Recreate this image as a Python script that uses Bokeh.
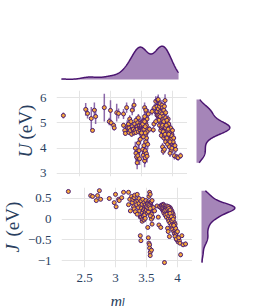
import numpy as np
from bokeh.plotting import figure
from bokeh.layouts import column, row
from bokeh.models import FixedTicker, Range1d, Grid, ColumnDataSource, Label
from bokeh.core.properties import value
from bokeh.embed import file_html
from bokeh.resources import INLINE

# ---------------- data ----------------
m_l = [2.24, 2.60, 2.63, 2.69, 2.71, 2.74, 2.76, 2.90, 2.98, 3.00, 3.01, 3.05, 3.06, 3.10, 3.13, 3.21, 3.21, 3.23, 3.24,
       3.26, 3.27, 3.28, 3.29, 3.30, 3.30, 3.31, 3.32, 3.33, 3.34, 3.35, 3.35, 3.36, 3.37, 3.38, 3.38, 3.39, 3.40, 3.41, 3.41, 3.42, 3.43, 3.43, 3.44, 3.45, 3.45, 3.46, 3.47, 3.47, 3.48,
       3.40, 3.41, 3.42, 3.43, 3.44, 3.45, 3.46, 3.47, 3.48, 3.52, 3.53, 3.54, 3.55, 3.55, 3.56, 3.56, 3.57, 3.58, 3.58, 3.59, 3.60,
       3.48, 3.49, 3.49, 3.50, 3.50, 3.51, 3.51, 3.52, 3.52, 3.53, 3.53, 3.54, 3.54, 3.55, 3.55, 3.56, 3.56, 3.57, 3.57, 3.58, 3.58, 3.59, 3.59, 3.50, 3.51, 3.52, 3.53, 3.54, 3.55, 3.53, 3.56, 3.57, 3.52, 3.61, 3.63,
       3.67, 3.69, 3.71, 3.73, 3.74, 3.75, 3.76, 3.76, 3.77, 3.78, 3.75, 3.75, 3.76, 3.77, 3.77, 3.78, 3.78, 3.79, 3.80, 3.80, 3.81, 3.82, 3.83, 3.83, 3.84, 3.85, 3.86, 3.87, 3.88, 3.89,
       3.78, 3.79, 3.80, 3.81, 3.82, 3.83, 3.84, 3.85, 3.85, 3.86, 3.86, 3.87, 3.88, 3.89, 3.90, 3.91, 3.92, 3.92, 3.93, 3.94, 3.95, 3.95, 3.96, 3.97, 3.98, 3.98, 3.99, 3.97, 3.99, 4.00, 3.96, 4.01, 3.98, 4.05, 4.03, 4.02, 4.04, 4.07, 4.09, 4.13,
       3.70, 3.73, 3.86, 3.88, 3.89, 3.91, 3.92, 3.93,
       3.82, 3.83, 3.84, 3.85, 3.86, 3.87, 3.88, 3.89, 3.90, 3.91, 3.92, 3.93, 3.94, 3.95, 3.96,
       3.88, 3.90, 3.91, 3.93, 3.94, 3.50, 3.52, 3.54, 3.55, 3.56]

U = [5.29, 5.53, 5.37, 5.17, 4.70, 5.50, 5.25, 5.60, 5.05, 5.49, 5.00, 4.90, 4.80, 5.40, 5.37, 5.35, 4.90, 4.70, 4.58,
     5.60, 4.85, 4.80, 4.95, 4.80, 4.62, 5.15, 4.70, 5.05, 4.55, 5.50, 4.85, 4.75, 4.75, 4.60, 5.70, 4.95, 4.70, 5.10, 4.62, 4.85, 4.85, 4.75, 5.00, 4.65, 5.20, 4.90, 4.80, 4.90, 4.70,
     4.00, 3.80, 3.65, 3.42, 3.70, 4.20, 3.90, 3.58, 4.35, 3.95, 3.72, 4.10, 3.50, 3.85, 3.62, 3.90, 4.25, 3.78, 4.40, 3.68, 4.15,
     4.80, 4.60, 5.00, 4.80, 4.85, 4.50, 4.95, 4.70, 4.75, 4.85, 4.45, 5.10, 4.65, 5.60, 4.90, 4.75, 4.70, 4.55, 5.00, 4.80, 4.90, 4.65, 5.15, 4.90, 5.00, 4.70, 4.85, 4.85, 5.25, 5.05, 4.60, 5.50, 4.95, 5.35, 4.75,
     5.45, 4.72, 5.60, 5.85, 5.40, 5.30, 5.90, 5.35, 5.55, 5.20, 5.65, 5.45, 5.30, 5.92, 5.55, 5.25, 5.30, 5.65, 5.75, 5.45, 5.40, 5.15, 5.70, 5.35, 5.60, 5.25, 5.50, 5.65, 5.88, 5.40,
     5.10, 4.90, 5.25, 4.70, 4.50, 4.95, 4.05, 3.88, 4.80, 4.40, 5.15, 3.95, 4.60, 4.25, 5.00, 4.75, 4.15, 4.50, 4.90, 4.30, 4.65, 4.05, 4.45, 4.80, 4.20, 3.90, 4.55, 4.35, 4.00, 4.70, 3.80, 4.25, 4.50, 3.95, 3.70, 4.40, 4.10, 3.65, 3.62, 3.70,
     4.95, 5.05, 5.00, 4.85, 5.20, 4.65, 4.80, 5.15,
     4.80, 4.85, 4.90, 4.65, 5.05, 4.50, 4.85, 4.80, 4.45, 5.10, 4.70, 4.35, 4.95, 4.60, 4.25,
     4.55, 4.90, 4.40, 4.75, 4.55, 4.60, 4.95, 4.75, 5.05, 4.85]

U_err = [0.12, 0.25, 0.20, 0.45, 0.08, 0.30, 0.30, 0.55, 0.15, 0.40, 0.12, 0.10, 0.10, 0.35, 0.20, 0.20, 0.10, 0.10, 0.10,
         0.20, 0.25, 0.15, 0.10, 0.12, 0.10, 0.15, 0.10, 0.12, 0.10, 0.20, 0.12, 0.10, 0.15, 0.10, 0.25, 0.12, 0.10, 0.15, 0.10, 0.12, 0.15, 0.12, 0.12, 0.10, 0.15, 0.12, 0.12, 0.20, 0.10,
         0.25, 0.30, 0.25, 0.25, 0.25, 0.20, 0.25, 0.25, 0.20, 0.20, 0.25, 0.20, 0.25, 0.25, 0.25, 0.20, 0.20, 0.25, 0.20, 0.25, 0.20,
         0.15, 0.12, 0.15, 0.12, 0.15, 0.12, 0.12, 0.12, 0.15, 0.15, 0.12, 0.15, 0.12, 0.20, 0.15, 0.12, 0.15, 0.12, 0.15, 0.12, 0.15, 0.12, 0.15, 0.12, 0.20, 0.12, 0.15, 0.12, 0.20, 0.15, 0.12, 0.15, 0.12, 0.20, 0.12,
         0.15, 0.10, 0.15, 0.20, 0.15, 0.15, 0.15, 0.12, 0.15, 0.15, 0.15, 0.15, 0.15, 0.20, 0.15, 0.15, 0.12, 0.15, 0.15, 0.15, 0.15, 0.12, 0.20, 0.12, 0.15, 0.15, 0.15, 0.15, 0.25, 0.12,
         0.12, 0.12, 0.15, 0.12, 0.12, 0.12, 0.15, 0.15, 0.12, 0.12, 0.15, 0.15, 0.12, 0.12, 0.15, 0.12, 0.15, 0.12, 0.12, 0.12, 0.12, 0.15, 0.12, 0.12, 0.15, 0.15, 0.12, 0.15, 0.15, 0.12, 0.15, 0.15, 0.12, 0.15, 0.15, 0.15, 0.15, 0.12, 0.12, 0.12,
         0.12, 0.12, 0.12, 0.12, 0.15, 0.12, 0.12, 0.15,
         0.12, 0.12, 0.15, 0.12, 0.12, 0.12, 0.15, 0.12, 0.12, 0.12, 0.12, 0.12, 0.12, 0.12, 0.12,
         0.12, 0.12, 0.12, 0.12, 0.12, 0.12, 0.12, 0.12, 0.15, 0.12]

J = [0.67, 0.57, 0.55, 0.45, 0.57, 0.69, 0.48, 0.50, 0.40, 0.60, 0.30, 0.48, 0.45, 0.52, 0.65, 0.65, 0.35, 0.48, 0.20,
     0.55, 0.40, 0.48, 0.30, 0.25, 0.52, 0.58, 0.18, 0.42, 0.35, 0.60, 0.12, 0.45, 0.28, 0.50, 0.38, 0.20, 0.05, 0.32, 0.44, 0.26, 0.15, 0.36, 0.48, 0.22, 0.10, 0.40, 0.30, 0.25, 0.18,
     -0.40, -0.52, 0.05, -0.05, 0.00, 0.08, -0.02, 0.10, 0.02, -0.20, -0.45, -0.58, -0.62, -0.70, -0.80, -0.88, 0.15, -0.75, 0.00, -0.12, 0.05,
     0.35, 0.28, 0.45, 0.30, 0.22, 0.38, 0.15, 0.32, 0.26, 0.42, 0.20, 0.30, 0.55, 0.65, 0.28, 0.35, 0.60, 0.25, 0.40, 0.12, 0.32, 0.28, 0.45, 0.22, 0.30, 0.38, 0.18, 0.30, 0.34, 0.26, 0.08, 0.30, 0.36, 0.28, 0.20,
     0.32, 0.05, 0.30, 0.28, 0.34, 0.26, 0.30, 0.22, 0.36, 0.30, 0.25, 0.32, 0.28, 0.34, 0.20, 0.30, 0.26, -1.05, 0.32, 0.24, 0.28, 0.18, 0.30, 0.22, 0.26, 0.14, 0.20, 0.10, 0.16, 0.05,
     0.15, 0.20, 0.10, 0.22, 0.05, 0.12, -0.22, -0.30, 0.00, 0.08, -0.05, -0.42, -0.10, 0.02, -0.15, -0.02, -0.20, -0.25, -0.10, -0.30, -0.18, -0.35, -0.28, -0.22, -0.40, -0.32, -0.45, -0.38, -0.50, -0.30, -0.42, -0.55, -0.48, -0.86, -0.52, -0.45, -0.58, -0.40, -0.62, -0.60,
     -0.14, -0.20, 0.30, 0.28, 0.25, 0.20, 0.15, 0.12,
     0.28, 0.32, 0.24, 0.30, 0.26, 0.18, 0.22, 0.12, 0.08, 0.15, 0.02, -0.05, 0.05, -0.08, -0.12,
     0.14, 0.06, -0.04, 0.00, -0.15, 0.30, 0.28, 0.34, 0.30, 0.26]

J_err = ([0.02] * 19 +
         [0.02] * 30 +
         [0.02, 0.03, 0.02, 0.02, 0.02, 0.02, 0.02, 0.02, 0.02, 0.02, 0.03, 0.03, 0.03, 0.03, 0.04, 0.05, 0.02, 0.04, 0.02, 0.02, 0.02] +
         [0.02] * 35 +
         [0.02] * 17 + [0.05] + [0.02] * 12 +
         [0.02] * 33 + [0.06, 0.03, 0.03, 0.03, 0.04, 0.05, 0.06] +
         [0.02] * 8 +
         [0.02] * 15 +
         [0.02] * 10)

x_ticks = [2.5, 3, 3.5, 4]
x_tick_labels = {2.5: "2.5", 3: "3", 3.5: "3.5", 4: "4"}
U_ticks = [3, 4, 5, 6]
U_tick_labels = {3: "3", 4: "4", 5: "5", 6: "6"}
J_ticks = [-1, -0.5, 0, 0.5]
J_tick_labels = {-1: "\u22121", -0.5: "\u22120.5", 0: "0", 0.5: "0.5"}

# ---------------- styles ----------------
FONT = "Liberation Serif"
TXT = "#2a3f5f"
GRID = "#e4e4e4"
FILL = "#a585b8"
LINE = "#4a1470"
MARK_FILL = "#f7a83a"
MARK_LINE = "#4c1d72"
ERR = "#5b2a86"


def kde(vals, n=300):
    v = np.asarray(vals, dtype=float)
    sd = v.std(ddof=1)
    q75, q25 = np.percentile(v, [75, 25])
    bw = 1.059 * min(sd, (q75 - q25) / 1.349) * len(v) ** -0.2
    g = np.linspace(v.min(), v.max(), n)
    d = np.exp(-0.5 * ((g[:, None] - v[None, :]) / bw) ** 2).sum(axis=1)
    return g, d / d.max()


src = ColumnDataSource(dict(
    m=m_l, U=U, J=J,
    U_lo=list(np.array(U) - np.array(U_err)), U_hi=list(np.array(U) + np.array(U_err)),
    J_lo=list(np.array(J) - np.array(J_err)), J_hi=list(np.array(J) + np.array(J_err)),
))

xr = Range1d(2.129, 4.242)
Ur = Range1d(2.88, 6.276)
Jr = Range1d(-1.169, 0.766)

common = dict(output_backend="svg", toolbar_location=None, min_border=0,
              outline_line_color=None, background_fill_color="white",
              border_fill_color="white")


def bare(p):
    p.grid.visible = False
    for a in p.axis:
        a.visible = False


def add_grids(p, xt=None, yt=None):
    p.grid.visible = False
    if xt is not None:
        p.add_layout(Grid(dimension=0, ticker=FixedTicker(ticks=xt), grid_line_color=GRID, grid_line_width=1))
    if yt is not None:
        p.add_layout(Grid(dimension=1, ticker=FixedTicker(ticks=yt), grid_line_color=GRID, grid_line_width=1))


def style_axis(ax, ticks, labels, standoff=4):
    ax.ticker = FixedTicker(ticks=ticks)
    ax.major_label_overrides = labels
    ax.major_label_text_font = FONT
    ax.major_label_text_font_size = "13px"
    ax.major_label_text_color = TXT
    ax.axis_line_color = None
    ax.major_tick_line_color = None
    ax.minor_tick_line_color = None
    ax.major_label_standoff = standoff


def label_fig(w, h, bottom):
    p = figure(frame_width=w, frame_height=h, x_range=Range1d(0, w), y_range=Range1d(0, h),
               x_axis_location=None, y_axis_location=None, min_border_bottom=bottom, **common)
    bare(p)
    return p


def put_text(p, x, y, txt, size, italic=False, angle=0.0, align="left", baseline="middle"):
    p.text(x=[x], y=[y], text=[txt], angle=angle, text_align=align, text_baseline=baseline,
           text_font=value(FONT), text_font_size=value(size),
           text_font_style="italic" if italic else "normal", text_color=TXT)


# top marginal
gm, dm = kde(m_l)
top = figure(frame_width=131, frame_height=50, x_range=xr, y_range=Range1d(-0.03, 1.47),
             x_axis_location=None, y_axis_location=None,
             min_border_left=54, min_border_top=30, min_border_bottom=10, min_border_right=0, **common)
bare(top)
top.patch(list(np.r_[gm[0], gm, gm[-1]]), list(np.r_[0, dm, 0]), fill_color=FILL, line_color=None)
top.line(list(gm), list(dm), line_color=LINE, line_width=1.5)

# U row
lab_u = label_fig(36, 86, 11)
put_text(lab_u, 25, 19, "U", "19px", italic=True, angle=np.pi / 2)
put_text(lab_u, 25, 37, "(eV)", "19px", angle=np.pi / 2)

pu = figure(frame_width=131, frame_height=86, x_range=xr, y_range=Ur,
            x_axis_location=None,
            min_border_left=18, min_border_top=0, min_border_bottom=11, min_border_right=0, **common)
add_grids(pu, x_ticks, U_ticks)
style_axis(pu.yaxis[0], U_ticks, U_tick_labels)
pu.segment(x0="m", y0="U_lo", x1="m", y1="U_hi", source=src, line_color=ERR, line_alpha=0.7, line_width=1.5)
pu.scatter(x="m", y="U", source=src, size=4, fill_color=MARK_FILL, line_color=MARK_LINE, line_width=1)

gu, du = kde(U)
mu = figure(frame_width=40, frame_height=86, x_range=Range1d(-0.03, 1.17), y_range=Ur,
            x_axis_location=None, y_axis_location=None,
            min_border_left=8, min_border_top=0, min_border_bottom=11, min_border_right=2, **common)
bare(mu)
mu.patch(list(np.r_[0, du, 0]), list(np.r_[gu[0], gu, gu[-1]]), fill_color=FILL, line_color=None)
mu.line(list(du), list(gu), line_color=LINE, line_width=1.5)

# J row
lab_j = label_fig(24, 80, 15)
put_text(lab_j, 12, 15, "J", "19px", italic=True, angle=np.pi / 2)
put_text(lab_j, 12, 31, "(eV)", "19px", angle=np.pi / 2)

pj = figure(frame_width=131, frame_height=80, x_range=xr, y_range=Jr,
            min_border_left=30, min_border_top=0, min_border_bottom=15, min_border_right=0, **common)
add_grids(pj, x_ticks, J_ticks)
style_axis(pj.yaxis[0], J_ticks, J_tick_labels)
style_axis(pj.xaxis[0], x_ticks, x_tick_labels, standoff=0)
pj.segment(x0="m", y0="J_lo", x1="m", y1="J_hi", source=src, line_color=ERR, line_alpha=0.7, line_width=1.5)
pj.scatter(x="m", y="J", source=src, size=4, fill_color=MARK_FILL, line_color=MARK_LINE, line_width=1)

gj, dj = kde(J)
mj = figure(frame_width=40, frame_height=80, x_range=Range1d(-0.03, 1.17), y_range=Jr,
            x_axis_location=None, y_axis_location=None,
            min_border_left=8, min_border_top=0, min_border_bottom=15, min_border_right=2, **common)
bare(mj)
mj.patch(list(np.r_[0, dj, 0]), list(np.r_[gj[0], gj, gj[-1]]), fill_color=FILL, line_color=None)
mj.line(list(dj), list(gj), line_color=LINE, line_width=1.5)

# x title row (labels as annotations inside their own small frame)
lab_m = label_fig(185, 23, 0)
lab_m.add_layout(Label(x=110, y=6, text="m", text_align="left", text_baseline="alphabetic",
                       text_font=FONT, text_font_size="16px", text_font_style="italic", text_color=TXT))
lab_m.add_layout(Label(x=121, y=5, text="l", text_align="left", text_baseline="alphabetic",
                       text_font=FONT, text_font_size="12px", text_font_style="italic", text_color=TXT))

layout = column(row(top), row(lab_u, pu, mu), row(lab_j, pj, mj), row(lab_m))

with open("out.html", "w") as f:
    f.write(file_html(layout, INLINE))
